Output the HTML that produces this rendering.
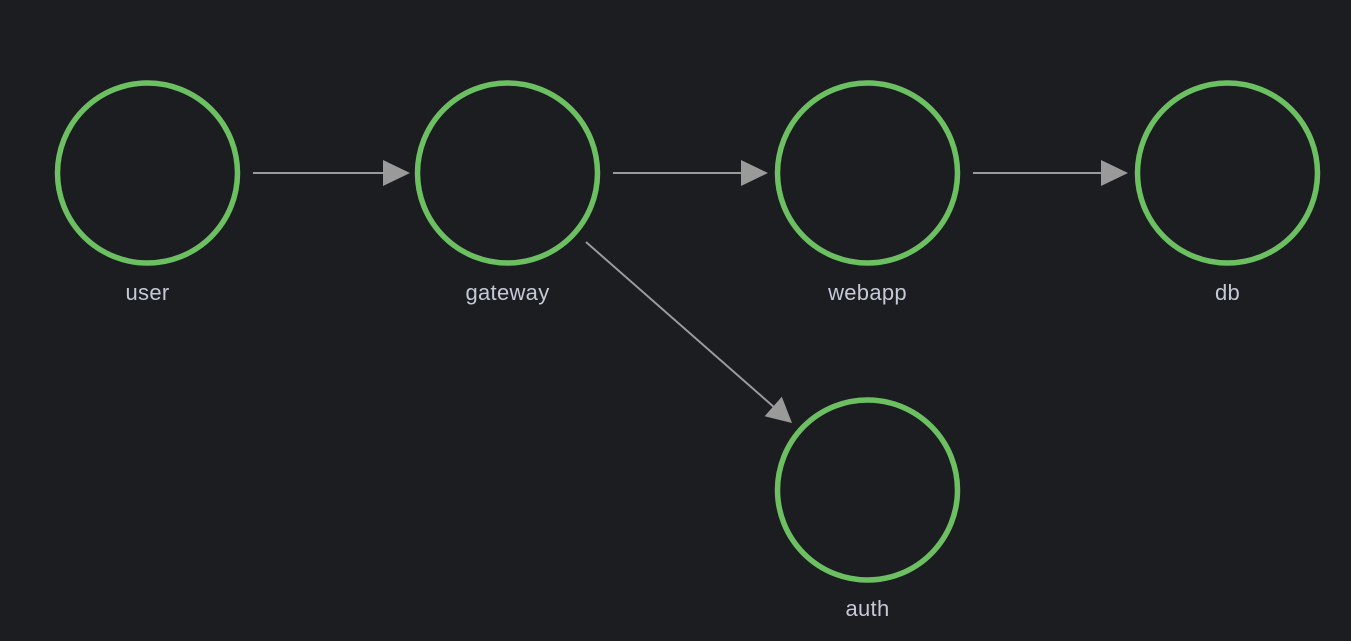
<!DOCTYPE html>
<html><head><meta charset="utf-8"><style>
html,body{margin:0;padding:0;background:#1b1d21;}
svg{display:block}
text{font-family:"Liberation Sans",sans-serif;font-size:22px;fill:#c5c8d6;text-anchor:middle;letter-spacing:0.3px}
</style></head><body>
<svg width="1351" height="641" viewBox="0 0 1351 641">
<rect width="1351" height="641" fill="#1b1d21"/>
<g fill="none" stroke="#6cc062" stroke-width="5.5">
<circle cx="147.5" cy="173" r="90"/>
<circle cx="507.5" cy="173" r="90"/>
<circle cx="867.5" cy="173" r="90"/>
<circle cx="1227.5" cy="173" r="90"/>
<circle cx="867.5" cy="490" r="90"/>
</g>
<g stroke="#9a9a9a" stroke-width="2">
<line x1="253" y1="173" x2="385" y2="173"/>
<line x1="613" y1="173" x2="745" y2="173"/>
<line x1="973" y1="173" x2="1105" y2="173"/>
<line x1="586" y1="242" x2="775" y2="408"/>
</g>
<g fill="#9a9a9a">
<polygon points="383,160 410,173 383,186"/>
<polygon points="741,160 768,173 741,186"/>
<polygon points="1101,160 1128,173 1101,186"/>
<polygon points="792,423 764.6,416.3 781.8,396.7"/>
</g>
<text x="147.5" y="300">user</text>
<text x="507.5" y="300">gateway</text>
<text x="867.5" y="300">webapp</text>
<text x="1227.5" y="300">db</text>
<text x="867.5" y="616">auth</text>
</svg>
</body></html>
